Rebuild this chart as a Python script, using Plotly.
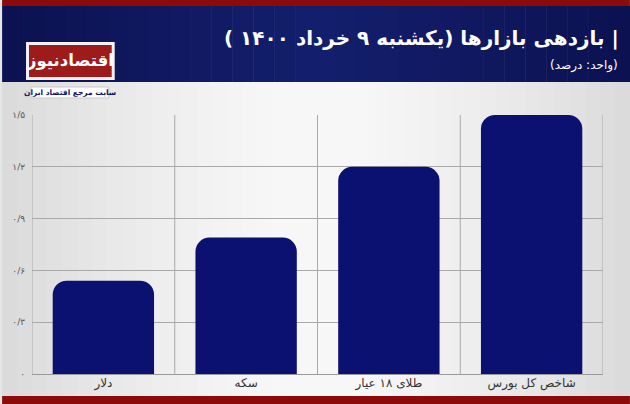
import plotly.graph_objects as go

categories = ["دلار", "سکه", "طلای ۱۸ عیار", "شاخص کل بورس"]
values = [0.54, 0.79, 1.2, 1.5]
tick_vals = [0, 0.3, 0.6, 0.9, 1.2, 1.5]
tick_text = ["۰", "۰/۳", "۰/۶", "۰/۹", "۱/۲", "۱/۵"]
title_text = "| بازدهی بازارها (یکشنبه ۹ خرداد ۱۴۰۰ )"
subtitle_text = "(واحد: درصد)"
logo_text = "اقتصادنیوز"
logo_sub = "سایت مرجع اقتصاد ایران"

W, H = 630, 404
L, R, T, B = 30, 603, 115, 374
FONT = "DejaVu Sans"
RLE, PDF = "\u202b", "\u202c"

def px(x):
    return (x - L) / (R - L)

def py(y):
    return (B - y) / (B - T)

fig = go.Figure()
fig.add_trace(go.Bar(
    x=categories, y=values,
    marker=dict(color="#0b1170", cornerradius=14, line=dict(width=0)),
    width=0.71, hoverinfo="skip",
))

shapes = []
# background gradient strips
n = 42
for i in range(n):
    x0 = W * i / n
    x1 = W * (i + 1) / n
    xm = (x0 + x1) / 2
    d = abs(xm - W / 2) / (W / 2)
    c = int(248 - 30 * d ** 1.6)
    shapes.append(dict(type="rect", xref="paper", yref="paper",
                       x0=px(x0), x1=px(x1 + 0.5), y0=py(404), y1=py(82),
                       fillcolor=f"rgb({c},{c},{c})", line=dict(width=0), layer="below"))
# header with slight gradient
m = 30
for i in range(m):
    x0 = W * i / m
    x1 = W * (i + 1) / m
    xm = (x0 + x1) / 2
    d = abs(xm - W / 2) / (W / 2)
    r = int(20 - 8 * d)
    g = int(32 - 14 * d)
    b = int(110 - 30 * d)
    shapes.append(dict(type="rect", xref="paper", yref="paper", x0=px(x0), x1=px(x1 + 0.5),
                       y0=py(82), y1=py(6), fillcolor=f"rgb({r},{g},{b})", line=dict(width=0), layer="below"))
shapes.append(dict(type="rect", xref="paper", yref="paper", x0=px(0), x1=px(630),
                   y0=py(6), y1=py(0), fillcolor="#8c0a0a", line=dict(width=0), layer="below"))
shapes.append(dict(type="rect", xref="paper", yref="paper", x0=px(0), x1=px(630),
                   y0=py(404), y1=py(396), fillcolor="#8c0a0a", line=dict(width=0), layer="below"))
# logo
shapes.append(dict(type="rect", xref="paper", yref="paper", x0=px(24), x1=px(113),
                   y0=py(80), y1=py(42), fillcolor="#f2f2f2", line=dict(width=0), layer="above"))
shapes.append(dict(type="rect", xref="paper", yref="paper", x0=px(27), x1=px(110),
                   y0=py(77), y1=py(45), fillcolor="#9e1b1b", line=dict(width=0), layer="above"))
shapes.append(dict(type="rect", xref="paper", yref="paper", x0=px(29), x1=px(107),
                   y0=py(98), y1=py(87), fillcolor="#ffffff", line=dict(color="#c8c8c8", width=1), layer="above"))
# vertical grid / borders
for i in range(5):
    xv = i - 0.5
    shapes.append(dict(type="line", xref="x", yref="y", x0=xv, x1=xv, y0=0, y1=1.5,
                       line=dict(color="#a9a9a9", width=1), layer="below"))

fig.update_layout(
    width=W, height=H,
    margin=dict(l=L, r=W - R, t=T, b=H - B, pad=0),
    paper_bgcolor="#e6e6e6",
    plot_bgcolor="rgba(0,0,0,0)",
    showlegend=False,
    bargap=0.29,
    font=dict(family=FONT, color="#444"),
    shapes=shapes,
    xaxis=dict(range=[-0.5, 3.5], showgrid=False, zeroline=False, showline=False,
               ticks="", tickfont=dict(size=12, color="#333"), fixedrange=True),
    yaxis=dict(range=[0, 1.5], tickvals=tick_vals, ticktext=tick_text,
               showgrid=True, gridcolor="#a9a9a9", gridwidth=1,
               zeroline=True, zerolinecolor="#9a9a9a", zerolinewidth=1,
               ticks="", ticklabelstandoff=6,
               tickfont=dict(size=9, color="#555"), fixedrange=True),
    annotations=[
        dict(text=f"<b>{RLE}{title_text}{PDF}</b>", xref="paper", yref="paper", x=px(621), y=py(38),
             xanchor="right", yanchor="middle", showarrow=False,
             font=dict(family=FONT, size=20, color="white")),
        dict(text=f"{RLE}{subtitle_text}{PDF}", xref="paper", yref="paper", x=px(620), y=py(66),
             xanchor="right", yanchor="middle", showarrow=False,
             font=dict(family=FONT, size=12, color="white")),
        dict(text=f"<b>{logo_text}</b>", xref="paper", yref="paper", x=px(68.5), y=py(61),
             xanchor="center", yanchor="middle", showarrow=False,
             font=dict(family=FONT, size=16.5, color="white")),
        dict(text=f"<b>{logo_sub}</b>", xref="paper", yref="paper", x=px(68), y=py(92.5),
             xanchor="center", yanchor="middle", showarrow=False,
             font=dict(family=FONT, size=7.5, color="#0b1170")),
    ],
)

fig.write_html("out.html", config={"displayModeBar": False},
               post_script="document.body.style.margin='0';document.body.style.overflow='hidden';")
